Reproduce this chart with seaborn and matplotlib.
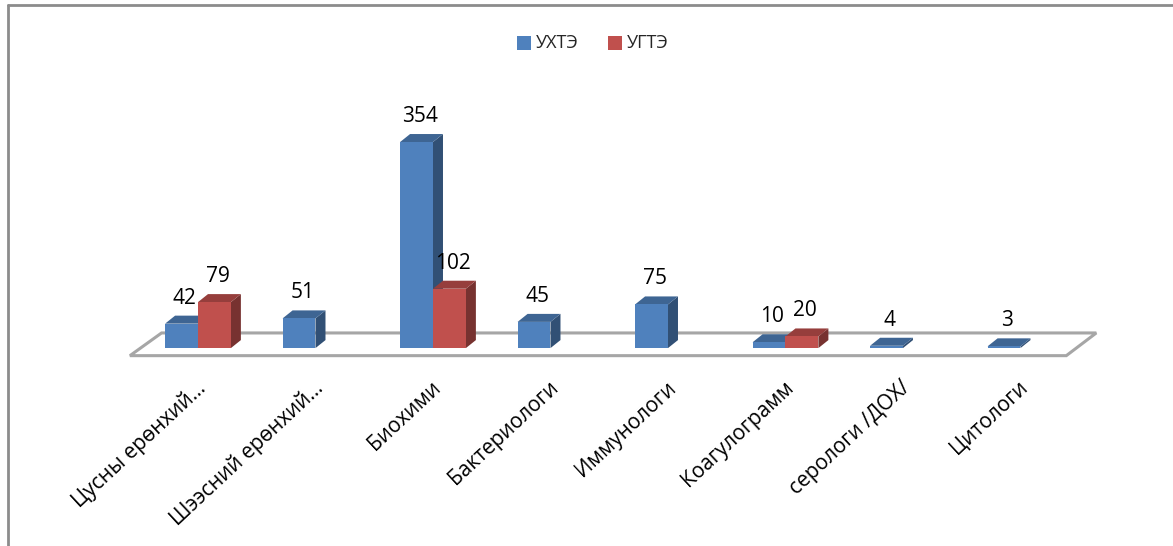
import numpy as np
import pandas as pd
import matplotlib
matplotlib.use("Agg")
import matplotlib.pyplot as plt
import seaborn as sns
from matplotlib.patches import Polygon, Rectangle
from matplotlib.colors import to_rgb

# data
categories = ["Цусны ерөнхий...", "Шээсний ерөнхий...", "Биохими", "Бактериологи",
              "Иммунологи", "Коагулограмм", "серологи /ДОХ/", "Цитологи"]
uhte = [42, 51, 354, 45, 75, 10, 4, 3]
ugte = [79, 0, 102, 0, 0, 20, 0, 0]
series = ["УХТЭ", "УГТЭ"]
colors = {"УХТЭ": "#4F81BD", "УГТЭ": "#C0504D"}

df = pd.DataFrame({
    "cat": categories * 2,
    "val": uhte + ugte,
    "ser": [series[0]] * len(categories) + [series[1]] * len(categories),
})

sns.set_style("white")
plt.rcParams["font.family"] = ["Open Sans", "DejaVu Sans"]

fig = plt.figure(figsize=(11.73, 5.46), dpi=100)
ax = fig.add_axes([0, 0, 1, 1])

sns.barplot(data=df, x="cat", y="val", hue="ser", palette=colors, width=0.56,
            dodge=True, ax=ax, legend=False, linewidth=0, saturation=1)

# pixel-like mapping: 117.5 px per category, 0.582 px per unit
ax.set_xlim(-1.685, 8.298)
ax.set_ylim(-340, 598)
ax.axis("off")

px_x = 1 / 117.5
px_y = 1 / 0.582
dx, dy = 10 * px_x, 8 * px_y


def shade(c, f):
    r, g, b = to_rgb(c)
    return (r * f, g * f, b * f)


bars = [p for p in ax.patches if isinstance(p, Rectangle)]

# floor
floor = Polygon([(-0.579, -13), (7.39, -13), (7.645, 26), (-0.31, 26)],
                closed=True, fill=False, edgecolor="#a6a6a6", lw=2.2, zorder=0.5)
ax.add_patch(floor)

# 3d faces and value labels
for bar in bars:
    h = bar.get_height()
    if h <= 0:
        bar.set_visible(False)
        continue
    x0 = bar.get_x()
    w = bar.get_width()
    base = bar.get_facecolor()
    top = Polygon([(x0, h), (x0 + w, h), (x0 + w + dx, h + dy), (x0 + dx, h + dy)],
                  closed=True, facecolor=shade(base, 0.78), edgecolor="none", zorder=3)
    side = Polygon([(x0 + w, 0), (x0 + w + dx, dy), (x0 + w + dx, h + dy), (x0 + w, h)],
                   closed=True, facecolor=shade(base, 0.62), edgecolor="none", zorder=3)
    ax.add_patch(side)
    ax.add_patch(top)
    bar.set_zorder(4)
    ax.text(x0 + w / 2 + dx / 3, h + dy + 12, f"{int(h)}", ha="center", va="bottom",
            fontsize=15, color="black", zorder=5)

# category labels
for i, lab in enumerate(categories):
    ax.text(i - 0.02, -50, lab, rotation=43, ha="right", va="top",
            rotation_mode="anchor", fontsize=15, color="black")

# legend
for name, xs in zip(series, [0.4407, 0.518]):
    fig.patches.append(Rectangle((xs, 0.908), 0.012, 0.0256, transform=fig.transFigure,
                                 facecolor=colors[name], edgecolor="none"))
    fig.text(xs + 0.0165, 0.921, name, ha="left", va="center", fontsize=13)

# chart frame
fig.add_artist(plt.Line2D([0.0065, 0.0065], [0, 0.99], transform=fig.transFigure,
                          color="#8c8c8c", lw=2))
fig.add_artist(plt.Line2D([0.0065, 1], [0.99, 0.99], transform=fig.transFigure,
                          color="#8c8c8c", lw=2))

fig.savefig("out.png", dpi=100)
